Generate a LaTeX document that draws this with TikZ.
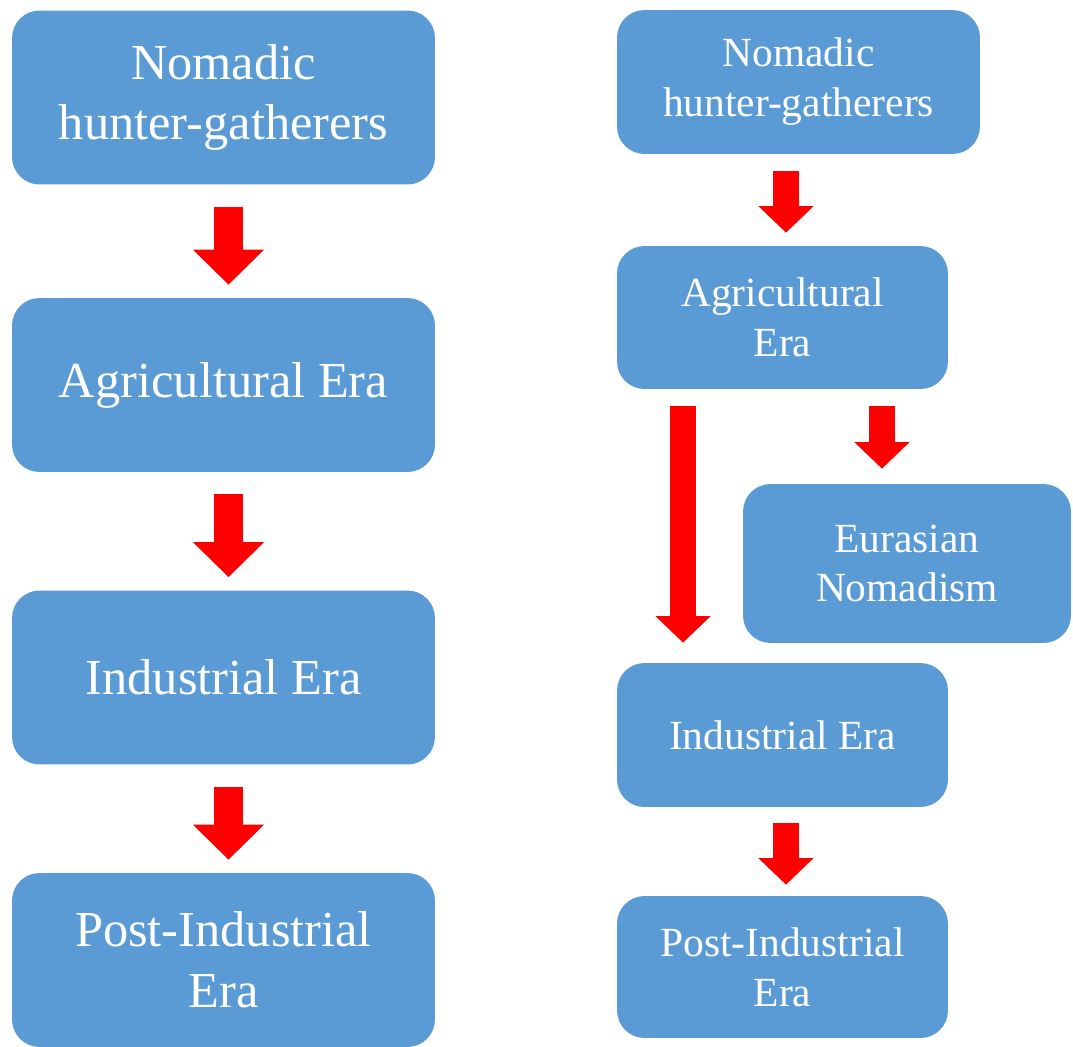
\documentclass[tikz,border=0pt]{standalone}
\usepackage{fontspec}
\setmainfont{Liberation Serif}
\usepackage{xcolor}
\usetikzlibrary{shapes, arrows.meta, positioning, calc}

\definecolor{eraBlue}{RGB}{91,155,213}
\definecolor{flowRed}{RGB}{255,0,0}

\begin{document}
\begin{tikzpicture}[x=0.02cm, y=-0.02cm,
    era/.style={rectangle, rounded corners=0.55cm, fill=eraBlue, text=white, align=center, inner sep=0pt},
    bigera/.style={era, minimum width=8.46cm, minimum height=3.48cm, font=\fontsize{28.7}{34.5}\selectfont},
    smallera/.style={era, font=\fontsize{23.6}{28.4}\selectfont},
    bigflow/.style={flowRed, line width=0.6cm, -{Triangle[width=1.38cm, length=0.7cm]}, shorten <=0.44cm, shorten >=0.26cm},
    smallflow/.style={flowRed, line width=0.52cm, -{Triangle[width=1.07cm, length=0.53cm]}, shorten <=0.34cm, shorten >=0.26cm}]

        \useasboundingbox (0,0) rectangle (1073,1046);

        % left: straight line of eras
        \node[bigera] (nomadL) at (223.5,97.5) {Nomadic\\hunter-gatherers};
        \node[bigera] (agriL) at (223.5,385) {Agricultural Era};
        \node[bigera] (indL) at (223.5,677.5) {Industrial Era};
        \node[bigera] (postL) at (223.5,960) {Post-Industrial\\Era};

        \draw[bigflow] ([xshift=0.1cm]nomadL.south) -- ([xshift=0.1cm]agriL.north);
        \draw[bigflow] ([xshift=0.1cm]agriL.south) -- ([xshift=0.1cm]indL.north);
        \draw[bigflow] ([xshift=0.1cm]indL.south) -- ([xshift=0.1cm]postL.north);

        % right: with the nomadic branch
        \node[smallera, minimum width=7.26cm, minimum height=2.88cm] (nomadR) at (798.5,82) {Nomadic\\hunter-gatherers};
        \node[smallera, minimum width=6.62cm, minimum height=2.86cm] (agriR) at (782.5,317.5) {Agricultural\\Era};
        \node[smallera, minimum width=6.56cm, minimum height=3.18cm] (eurasia) at (907,563.5) {Eurasian\\Nomadism};
        \node[smallera, minimum width=6.62cm, minimum height=2.88cm] (indR) at (782.5,735) {Industrial Era};
        \node[smallera, minimum width=6.62cm, minimum height=2.84cm] (postR) at (782.5,967) {Post-Industrial\\Era};

        \draw[smallflow] ([xshift=0.07cm]agriR.north |- nomadR.south) -- ([xshift=0.07cm]agriR.north);
        \draw[smallflow, shorten >=0.4cm] ([xshift=-1.99cm]agriR.south) -- ([xshift=-1.99cm]indR.north);
        \draw[smallflow, shorten >=0.3cm] ([xshift=1.99cm]agriR.south) -- ([xshift=1.99cm]agriR.south |- eurasia.north);
        \draw[smallflow, shorten <=0.32cm, shorten >=0.22cm] ([xshift=0.07cm]indR.south) -- ([xshift=0.07cm]postR.north);
\end{tikzpicture}
\end{document}
